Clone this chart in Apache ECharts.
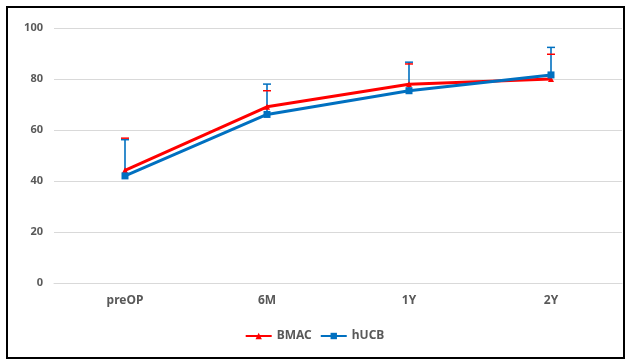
<!DOCTYPE html>
<html><head><meta charset="utf-8">
<script src="https://cdn.jsdelivr.net/npm/echarts@6/dist/echarts.min.js"></script>
<style>html,body{margin:0;padding:0;background:#fff}#c{width:629px;height:361px}</style>
</head><body><div id="c"></div>
<script>
const categories = ['preOP', '6M', '1Y', '2Y'];
const bmac = [44.2, 69.1, 77.9, 80.0];
const bmacUpper = [56.8, 75.4, 85.9, 89.7];
const hucb = [42.0, 66.1, 75.4, 81.6];
const hucbUpper = [56.2, 78.0, 86.6, 92.4];
const yTicks = [0, 20, 40, 60, 80, 100];

const RED = '#FF0000', BLUE = '#0070C0';
const chart = echarts.init(document.getElementById('c'));

function errSeries(name, vals, upper, color, withLine, z) {
  return {
    type: 'custom', name: name + '_err', z: z, silent: true,
    data: vals.map((v, i) => [i, v, upper[i]]),
    renderItem: function (params, api) {
      const p0 = api.coord([api.value(0), api.value(1)]);
      const p1 = api.coord([api.value(0), api.value(2)]);
      const children = [];
      if (withLine) children.push({ type: 'line', shape: { x1: p0[0], y1: p0[1], x2: p1[0], y2: p1[1] }, style: { stroke: color, lineWidth: 1.6 } });
      children.push({ type: 'line', shape: { x1: p1[0] - 4, y1: p1[1], x2: p1[0] + 4, y2: p1[1] }, style: { stroke: color, lineWidth: 1.5 } });
      return { type: 'group', children: children };
    }
  };
}

chart.setOption({
  animation: false,
  grid: { left: 54, right: 7, top: 28, bottom: 78 },
  xAxis: {
    type: 'category', data: categories,
    axisLine: { show: true, lineStyle: { color: '#d9d9d9' } },
    axisTick: { show: false },
    axisLabel: { color: '#595959', fontSize: 12, fontWeight: 'bold', fontFamily: 'Noto Sans', margin: 12 }
  },
  yAxis: {
    type: 'value', min: 0, max: 100, interval: 20,
    axisLine: { show: false }, axisTick: { show: false },
    splitLine: { lineStyle: { color: '#d9d9d9' } },
    axisLabel: { color: '#595959', fontSize: 11, fontWeight: 'bold', fontFamily: 'Noto Sans', margin: 11,
      formatter: v => yTicks.includes(v) ? String(v) : '' }
  },
  legend: {
    bottom: 14, left: 'center', itemWidth: 26, itemHeight: 8, itemGap: 8,
    textStyle: { color: '#595959', fontSize: 12, fontWeight: 'bold', fontFamily: 'Noto Sans' },
    data: ['BMAC', 'hUCB']
  },
  graphic: [{ type: 'rect', shape: { x: 7, y: 7, width: 617, height: 351 }, style: { fill: 'none', stroke: '#000', lineWidth: 2 }, silent: true }],
  series: [
    errSeries('hUCB', hucb, hucbUpper, BLUE, true, 2),
    errSeries('BMAC', bmac, bmacUpper, RED, false, 3),
    { name: 'BMAC', type: 'line', data: bmac, z: 4, symbol: 'triangle', symbolSize: 6,
      lineStyle: { color: RED, width: 3 }, itemStyle: { color: RED } },
    { name: 'hUCB', type: 'line', data: hucb, z: 5, symbol: 'rect', symbolSize: 7,
      lineStyle: { color: BLUE, width: 3 }, itemStyle: { color: BLUE } }
  ]
});
</script></body></html>
